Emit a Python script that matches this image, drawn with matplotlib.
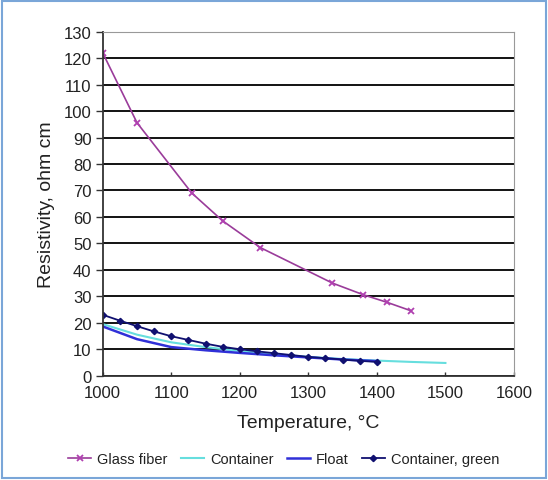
import matplotlib
matplotlib.use("Agg")
import matplotlib.pyplot as plt
from matplotlib.patches import Rectangle

plt.rcParams['font.family'] = ['Liberation Sans', 'DejaVu Sans']

# data
fiber_t = [1000, 1050, 1130, 1175, 1230, 1335, 1380, 1415, 1450]
fiber_r = [122, 95.6, 69, 58.5, 48.4, 35, 30.6, 27.7, 24.5]

cont_t = [1000, 1050, 1100, 1150, 1200, 1250, 1300, 1350, 1400, 1450, 1500]
cont_r = [19.5, 15.5, 12.6, 10.8, 9.3, 8.1, 7.1, 6.3, 5.7, 5.2, 4.8]

float_t = [1000, 1050, 1100, 1150, 1200, 1250, 1300, 1350, 1400]
float_r = [18.6, 13.8, 10.8, 9.6, 8.6, 7.7, 6.9, 6.1, 5.5]

green_t = [1000, 1025, 1050, 1075, 1100, 1125, 1150, 1175, 1200,
           1225, 1250, 1275, 1300, 1325, 1350, 1375, 1400]
green_r = [23, 20.8, 18.7, 16.7, 14.9, 13.5, 12.1, 10.9, 10.0,
           9.2, 8.5, 7.8, 7.1, 6.6, 6.1, 5.6, 5.2]

fig = plt.figure(figsize=(5.48, 4.81), dpi=100)
ax = fig.add_axes([0.1874, 0.2169, 0.7505, 0.7152])

ax.plot(fiber_t, fiber_r, color='#9a3c9a', lw=1.2, marker='x', ms=5, mew=1.3,
        mec='#b040b0', label='Glass fiber')
ax.plot(cont_t, cont_r, color='#66dede', lw=1.5, label='Container')
ax.plot(float_t, float_r, color='#3030d8', lw=1.8, marker='+', ms=0,
        label='Float')
ax.plot(green_t, green_r, color='#101070', lw=1.3, marker='D', ms=3.2,
        label='Container, green')

ax.set_xlim(1000, 1600)
ax.set_ylim(0, 130)
ax.set_xticks(range(1000, 1601, 100))
ax.set_yticks(range(0, 131, 10))
ax.grid(axis='y', color='black', lw=1.3)
ax.set_axisbelow(True)
for s in ['top', 'right']:
    ax.spines[s].set_color('#999999')
ax.spines['left'].set_color('#333333')
ax.spines['bottom'].set_color('#333333')
ax.spines['left'].set_linewidth(1.3)
ax.spines['bottom'].set_linewidth(1.3)
ax.tick_params(axis='both', labelsize=12, colors='#333333', length=5, width=1)
ax.tick_params(axis='x', length=3, direction='in', pad=7)
ax.tick_params(axis='y', pad=3)
for lbl in ax.get_xticklabels() + ax.get_yticklabels():
    lbl.set_color('#222222')

ax.set_xlabel('Temperature, \u00b0C', fontsize=14, color='#222222', labelpad=10)
ax.set_ylabel('Resistivity, ohm cm', fontsize=14, color='#222222', labelpad=6)

ax.legend(loc='upper center', bbox_to_anchor=(0.44, -0.185), ncol=4,
          frameon=False, fontsize=10.5, handlelength=1.6, handletextpad=0.4,
          columnspacing=0.9, labelcolor='#222222')

fig.patches.append(Rectangle((0.004, 0.004), 0.992, 0.992, transform=fig.transFigure,
                             fill=False, ec='#7aa6d8', lw=1.5))

fig.savefig('out.png', dpi=100)
